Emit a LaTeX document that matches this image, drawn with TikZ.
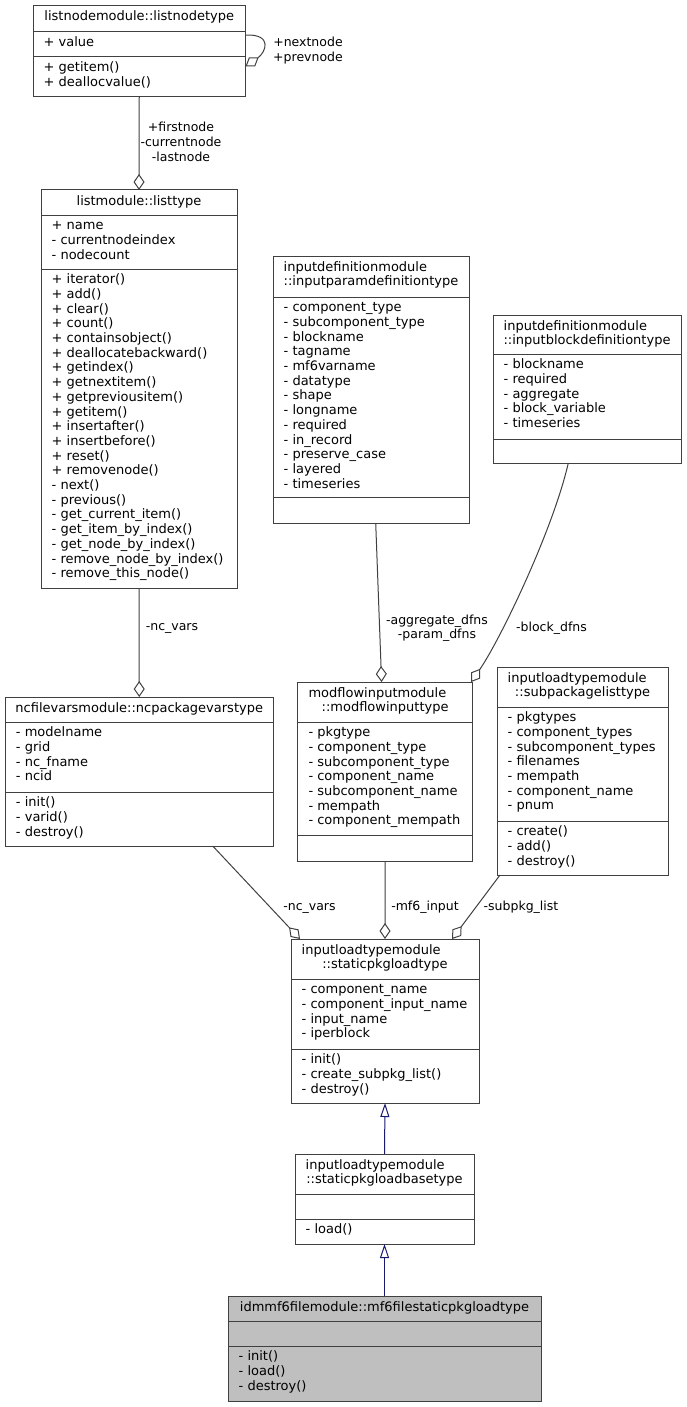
\documentclass[tikz,border=0pt]{standalone}
\usepackage{fontspec}
\setmainfont{DejaVu Sans}
\usetikzlibrary{arrows.meta}

\definecolor{umlgray}{HTML}{404040}
\definecolor{umlnavy}{HTML}{191970}
\definecolor{umlfill}{HTML}{BFBFBF}

\tikzset{
    classbox/.style={draw=umlgray, line width=1pt, fill=white, inner sep=0pt, outer sep=0pt},
    classrule/.style={draw=umlgray, line width=1pt},
    member/.style={anchor=base west, inner sep=0pt, font=\fontsize{13}{15}\selectfont},
    title/.style={anchor=base, inner sep=0pt, font=\fontsize{13}{15}\selectfont},
    rolelabel/.style={anchor=base, inner sep=0pt, font=\fontsize{12.5}{15}\selectfont},
    aggr/.style={draw=umlgray, line width=1pt, -{Diamond[open,length=16pt,width=11pt]}},
    inherit/.style={draw=umlnavy, line width=1pt, -{Triangle[open,length=14pt,width=9pt]}}
}

% box: [style]{name}{left}{top}{right}{bottom}
\newcommand{\umlclass}[6][classbox]{%
    \node[#1, minimum width={(#5-#3)*1pt}, minimum height={(#6-#4)*1pt}] (#2) at ({(#3+#5)/2},{(#4+#6)/2}) {};}
% compartment rule: {name}{y}
\newcommand{\umlsep}[2]{\draw[classrule] (#1.west |- 0,#2) -- (#1.east |- 0,#2);}
% text lines: [style]{prefix}{x}{first baseline}{entries}
\newcommand{\umllines}[5][member]{%
    \foreach \entry [count=\k] in {#5}
        \node[#1] (#2-\k) at (#3,{#4+(\k-1)*14.7}) {\entry};}

\begin{document}
\begin{tikzpicture}[x=1pt, y=-1pt]
    \useasboundingbox (0,0) rectangle (687,1407);

    % listnodemodule::listnodetype
    \umlclass{lnt}{33}{6}{245.5}{97}
    \umlsep{lnt}{32} \umlsep{lnt}{57}
    \node[title] (lnt-t) at (139.25,21) {listnodemodule::listnodetype};
    \umllines{lnt-a}{43.5}{46.7}{+ value}
    \umllines{lnt-m}{43.5}{71.7}{+ getitem(), + deallocvalue()}

    % listmodule::listtype
    \umlclass{lt}{41}{190}{237}{588}
    \umlsep{lt}{215} \umlsep{lt}{269}
    \node[title] (lt-t) at (139,205) {listmodule::listtype};
    \umllines{lt-a}{51.5}{229.7}{+ name, - currentnodeindex, - nodecount}
    \umllines{lt-m}{51.5}{283.7}{+ iterator(), + add(), + clear(), + count(), + containsobject(),
        + deallocatebackward(), + getindex(), + getnextitem(), + getpreviousitem(), + getitem(),
        + insertafter(), + insertbefore(), + reset(), + removenode(), - next(), - previous(),
        - get\_current\_item(), - get\_item\_by\_index(), - get\_node\_by\_index(),
        - remove\_node\_by\_index(), - remove\_this\_node()}

    % inputdefinitionmodule::inputparamdefinitiontype
    \umlclass{ipd}{273}{256}{469}{523}
    \umlsep{ipd}{297} \umlsep{ipd}{497}
    \node[member] (ipd-t1) at (283.5,271) {inputdefinitionmodule};
    \node[title] (ipd-t2) at (371,285.7) {::inputparamdefinitiontype};
    \umllines{ipd-a}{283.5}{311.7}{- component\_type, - subcomponent\_type, - blockname, - tagname,
        - mf6varname, - datatype, - shape, - longname, - required, - in\_record, - preserve\_case,
        - layered, - timeseries}

    % inputdefinitionmodule::inputblockdefinitiontype
    \umlclass{ibd}{493}{315}{681}{463}
    \umlsep{ibd}{354} \umlsep{ibd}{439}
    \node[member] (ibd-t1) at (503.5,330) {inputdefinitionmodule};
    \node[title] (ibd-t2) at (587,344.7) {::inputblockdefinitiontype};
    \umllines{ibd-a}{503.5}{368.7}{- blockname, - required, - aggregate, - block\_variable, - timeseries}

    % ncfilevarsmodule::ncpackagevarstype
    \umlclass{npv}{5.3}{697}{273.2}{846}
    \umlsep{npv}{722} \umlsep{npv}{792}
    \node[title] (npv-t) at (139.25,712) {ncfilevarsmodule::ncpackagevarstype};
    \umllines{npv-a}{15.8}{736.7}{- modelname, - grid, - nc\_fname, - ncid}
    \umllines{npv-m}{15.8}{806.7}{- init(), - varid(), - destroy()}

    % modflowinputmodule::modflowinputtype
    \umlclass{mit}{297.8}{682}{472.4}{861}
    \umlsep{mit}{722} \umlsep{mit}{835}
    \node[member] (mit-t1) at (308.3,697) {modflowinputmodule};
    \node[title] (mit-t2) at (385.1,711.7) {::modflowinputtype};
    \umllines{mit-a}{308.3}{736.7}{- pkgtype, - component\_type, - subcomponent\_type, - component\_name,
        - subcomponent\_name, - mempath, - component\_mempath}

    % inputloadtypemodule::subpackagelisttype
    \umlclass{spl}{497}{667}{668}{875}
    \umlsep{spl}{707} \umlsep{spl}{821}
    \node[member] (spl-t1) at (507.5,682) {inputloadtypemodule};
    \node[title] (spl-t2) at (582.5,696.7) {::subpackagelisttype};
    \umllines{spl-a}{507.5}{721.7}{- pkgtypes, - component\_types, - subcomponent\_types, - filenames,
        - mempath, - component\_name, - pnum}
    \umllines{spl-m}{507.5}{835.7}{- create(), - add(), - destroy()}

    % inputloadtypemodule::staticpkgloadtype
    \umlclass{spt}{291}{939}{479}{1103}
    \umlsep{spt}{979} \umlsep{spt}{1049}
    \node[member] (spt-t1) at (301.5,954) {inputloadtypemodule};
    \node[title] (spt-t2) at (385,968.7) {::staticpkgloadtype};
    \umllines{spt-a}{301.5}{993.7}{- component\_name, - component\_input\_name, - input\_name, - iperblock}
    \umllines{spt-m}{301.5}{1063.7}{- init(), - create\_subpkg\_list(), - destroy()}

    % inputloadtypemodule::staticpkgloadbasetype
    \umlclass{spb}{295}{1154}{474}{1244}
    \umlsep{spb}{1194} \umlsep{spb}{1219}
    \node[member] (spb-t1) at (305.5,1169) {inputloadtypemodule};
    \node[title] (spb-t2) at (384.5,1183.7) {::staticpkgloadbasetype};
    \umllines{spb-m}{305.5}{1233.7}{- load()}

    % idmmf6filemodule::mf6filestaticpkgloadtype
    \umlclass[classbox, fill=umlfill]{mfs}{228}{1296}{541}{1401}
    \umlsep{mfs}{1321} \umlsep{mfs}{1346}
    \node[title] (mfs-t) at (384.5,1311) {idmmf6filemodule::mf6filestaticpkgloadtype};
    \umllines{mfs-m}{238.5}{1360.7}{- init(), - load(), - destroy()}

    % aggregations
    \draw[aggr] ([yshift=16.5pt]lnt.east) .. controls +(28,-1) and +(20,-14) .. ([yshift=-15pt]lnt.east);
    \umllines[rolelabel]{lbl-next}{308}{47}{+nextnode, +prevnode}
    \draw[aggr] (lnt.south) -- (lt.north);
    \umllines[rolelabel]{lbl-first}{181}{132}{+firstnode, -currentnode, -lastnode}
    \draw[aggr] (lt.south) -- (npv.north);
    \umllines[rolelabel]{lbl-ncv}{172}{630.5}{-nc\_vars}
    \draw[aggr] ([xshift=4.7pt]ipd.south) -- ([xshift=-3.5pt]mit.north);
    \umllines[rolelabel]{lbl-dfns}{437}{624}{-aggregate\_dfns, -param\_dfns}
    \draw[aggr] ([xshift=-18.7pt]ibd.south) .. controls +(-15.3,67) and +(29,-42) .. ([xshift=86pt]mit.north);
    \umllines[rolelabel]{lbl-blk}{551.5}{631}{-block\_dfns}
    \draw[aggr] ([xshift=73.5pt]npv.south) -- ([xshift=-85pt]spt.north);
    \umllines[rolelabel]{lbl-ncv2}{309.5}{910.5}{-nc\_vars}
    \draw[aggr] (mit.south) -- (spt.north);
    \umllines[rolelabel]{lbl-mf6}{425}{910.5}{-mf6\_input}
    \draw[aggr] ([xshift=-82.5pt]spl.south) -- ([xshift=67pt]spt.north);
    \umllines[rolelabel]{lbl-sub}{521}{910.5}{-subpkg\_list}

    % inheritance
    \draw[inherit] (spb.north) -- (spt.south);
    \draw[inherit] (mfs.north) -- (spb.south);
\end{tikzpicture}
\end{document}
